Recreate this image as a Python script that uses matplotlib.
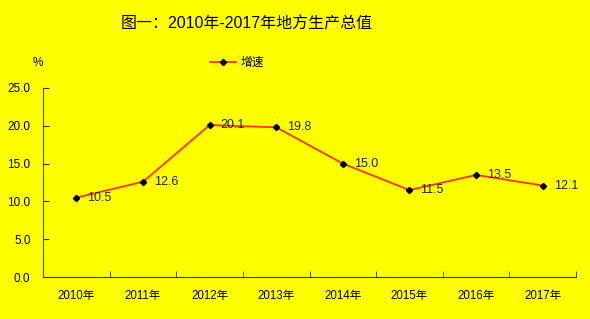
import matplotlib
matplotlib.use("Agg")
import matplotlib.pyplot as plt
import numpy as np

plt.rcParams['font.family'] = ['Liberation Sans', 'Noto Sans CJK SC', 'DejaVu Sans']

# data
years = ["2010年", "2011年", "2012年", "2013年", "2014年", "2015年", "2016年", "2017年"]
growth = [10.5, 12.6, 20.1, 19.8, 15.0, 11.5, 13.5, 12.1]
yticks = [0, 5, 10, 15, 20, 25]

bg = "#FFFF00"
fig = plt.figure(figsize=(5.9, 3.19), dpi=100, facecolor=bg)
ax = fig.add_axes([43 / 590, 1 - 277 / 319, 533 / 590, 189 / 319], facecolor=bg)

x = np.arange(len(years))
ax.plot(x, growth, color="#FF3300", linewidth=1.3, marker="D", markersize=3.2,
        markerfacecolor="black", markeredgecolor="black", label="增速", zorder=3)

for xi, v in zip(x, growth):
    ax.annotate(f"{v:.1f}", (xi, v), xytext=(8, 0), textcoords="offset points",
                ha="left", va="center", fontsize=9, color="#222222")

ax.set_xlim(-0.5, len(years) - 0.5)
ax.set_ylim(0, 25)
ax.set_yticks(yticks)
ax.set_yticklabels([f"{t:.1f}" for t in yticks], fontsize=8.5)
ax.set_xticks(x)
ax.set_xticklabels(years, fontsize=8.3)
ax.set_xticks(np.arange(len(years) + 1) - 0.5, minor=True)
ax.tick_params(axis="x", which="major", length=0, pad=9)
ax.tick_params(axis="x", which="minor", direction="in", length=4, color="#333333")
ax.tick_params(axis="y", direction="in", length=4, color="#333333", pad=9)

for s in ["top", "right"]:
    ax.spines[s].set_visible(False)
for s in ["left", "bottom"]:
    ax.spines[s].set_color("#333333")
    ax.spines[s].set_linewidth(0.8)

fig.text(247 / 590, 1 - 24 / 319, "图一：2010年-2017年地方生产总值", ha="center", va="center",
         fontsize=11.5, color="black")
fig.text(38 / 590, 1 - 63 / 319, "%", ha="center", va="center", fontsize=8.5)

ax.legend(loc="center", bbox_to_anchor=(237 / 590, 1 - 63 / 319), bbox_transform=fig.transFigure,
          frameon=False, fontsize=8.5, handlelength=2.2, handletextpad=0.4)

fig.savefig("out.png", dpi=100, facecolor=bg)
